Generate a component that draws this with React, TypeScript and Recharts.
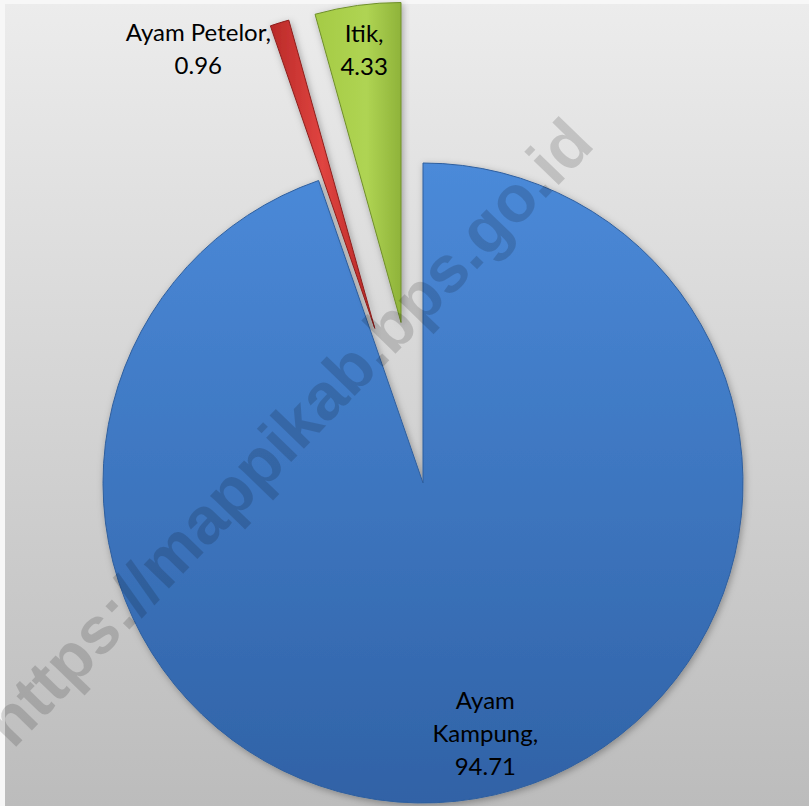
import { Pie, PieChart, Sector } from "recharts";

const categories = ["Ayam Kampung", "Ayam Petelor", "Itik"];
const shares = [94.71, 0.96, 4.33];

const data = categories.map((name, i) => ({ name, value: shares[i] }));

const fills: Record<string, string> = {
  "Ayam Kampung": "url(#gradBlue)",
  "Ayam Petelor": "url(#gradRed)",
  Itik: "url(#gradGreen)",
};
const edges: Record<string, string> = {
  "Ayam Kampung": "#2f5f9e",
  "Ayam Petelor": "#8e1f1c",
  Itik: "#6f8f2a",
};
// how far each slice is pulled out of the pie
const explode: Record<string, number> = {
  "Ayam Kampung": 0,
  "Ayam Petelor": 162,
  Itik: 162,
};
// label spot: fraction of radius along the slice middle, plus a nudge
const labelSpots: Record<string, { r: number; dx: number; dy: number; wrap: boolean }> = {
  "Ayam Kampung": { r: 0.8, dx: 20, dy: -3, wrap: true },
  "Ayam Petelor": { r: 0.95, dx: -86, dy: 9, wrap: false },
  Itik: { r: 0.85, dx: 0, dy: -5, wrap: false },
};

const RAD = Math.PI / 180;
const polar = (angle: number, d: number) => ({
  dx: d * Math.cos(-angle * RAD),
  dy: d * Math.sin(-angle * RAD),
});

const ExplodedSector = (props: any) => {
  const name = props.name ?? props.payload?.name;
  const off = polar(props.midAngle, explode[name] ?? 0);
  return (
    <Sector
      {...props}
      cx={props.cx + off.dx}
      cy={props.cy + off.dy}
      fill={fills[name]}
      stroke={edges[name]}
      strokeWidth={1}
      filter="url(#sliceShadow)"
    />
  );
};

const renderLabel = (p: any) => {
  const name = p.name ?? p.payload?.name;
  const spot = labelSpots[name];
  const off = polar(p.midAngle, explode[name] ?? 0);
  const ray = polar(p.midAngle, p.outerRadius * spot.r);
  const x = p.cx + off.dx + ray.dx + spot.dx;
  const y = p.cy + off.dy + ray.dy + spot.dy;
  const words = name.split(" ");
  const lines = spot.wrap
    ? [...words.slice(0, -1), words[words.length - 1] + ",", p.value.toFixed(2)]
    : [name + ",", p.value.toFixed(2)];
  const lh = 33;
  const y0 = y - ((lines.length - 1) * lh) / 2;
  return (
    <text
      x={x}
      y={y0}
      textAnchor="middle"
      dominantBaseline="central"
      fill="#000"
      fontSize={24}
      fontFamily="Lato, 'Open Sans', sans-serif"
    >
      {lines.map((l: string, i: number) => (
        <tspan key={i} x={x} y={y0 + i * lh}>
          {l}
        </tspan>
      ))}
    </text>
  );
};

export default function App() {
  return (
    <div style={{ position: "relative", width: 809, height: 806, background: "#f7f7f7", overflow: "hidden" }}>
      <style>{"body{margin:0}"}</style>
      <svg width={0} height={0} style={{ position: "absolute" }}>
        <defs>
          <linearGradient id="gradBlue" x1="0" y1="0" x2="0" y2="1">
            <stop offset="0%" stopColor="#4b8ad9" />
            <stop offset="100%" stopColor="#3062a6" />
          </linearGradient>
          <linearGradient id="gradRed" x1="0" y1="0" x2="1" y2="0">
            <stop offset="0%" stopColor="#b92a28" />
            <stop offset="50%" stopColor="#e04440" />
            <stop offset="100%" stopColor="#b52725" />
          </linearGradient>
          <linearGradient id="gradGreen" x1="0" y1="0" x2="1" y2="0">
            <stop offset="0%" stopColor="#a5cb45" />
            <stop offset="60%" stopColor="#afd453" />
            <stop offset="100%" stopColor="#8fb33a" />
          </linearGradient>
          <filter id="sliceShadow" x="-10%" y="-10%" width="120%" height="120%">
            <feDropShadow dx="1.5" dy="2" stdDeviation="3.5" floodColor="#000" floodOpacity="0.3" />
          </filter>
        </defs>
      </svg>
      <div
        style={{
          position: "absolute",
          left: 5,
          top: 4,
          right: 0,
          bottom: 0,
          background: "linear-gradient(#ececec, #bcbcbc)",
        }}
      />
      <div style={{ position: "absolute", left: 0, top: 0 }}>
        <PieChart width={809} height={806} margin={{ top: 0, right: 0, bottom: 0, left: 0 }}>
          <Pie
            data={data}
            dataKey="value"
            nameKey="name"
            cx={423}
            cy={483}
            outerRadius={320}
            startAngle={90}
            endAngle={-270}
            stroke="none"
            shape={ExplodedSector}
            label={renderLabel}
            labelLine={false}
            isAnimationActive={false}
          />
        </PieChart>
      </div>
      <svg
        width={809}
        height={806}
        style={{ position: "absolute", left: 0, top: 0, pointerEvents: "none" }}
      >
        <text
          x={288}
          y={432}
          textAnchor="middle"
          dominantBaseline="central"
          transform="rotate(-46 288 432)"
          fontFamily="'Liberation Sans', Arial, sans-serif"
          fontWeight="bold"
          fontSize={66}
          fill="#000"
          fillOpacity={0.15}
        >
          https://mappikab.bps.go.id
        </text>
      </svg>
    </div>
  );
}
